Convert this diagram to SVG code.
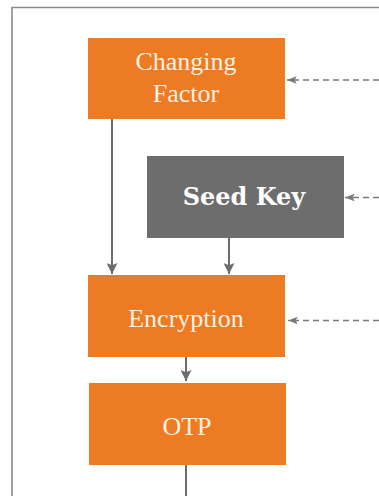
<svg xmlns="http://www.w3.org/2000/svg" width="379" height="496" viewBox="0 0 379 496">
<style>
.box{fill:#ec7b23}
.gbox{fill:#6d6d6d}
.lt{font-family:"Liberation Serif","DejaVu Serif",serif;font-size:26px;fill:#fdf1e4;text-anchor:middle}
.bd{font-family:"DejaVu Serif","Liberation Serif",serif;font-weight:bold;font-size:24px;fill:#ffffff;text-anchor:middle}
.solid{stroke:#6d6d6d;stroke-width:2;fill:none}
.dash{stroke:#7a7a7a;stroke-width:1.6;fill:none;stroke-dasharray:6 4}
</style>
<defs>
<marker id="ah" viewBox="0 0 10 10" refX="10" refY="5" markerWidth="5.5" markerHeight="5.5" orient="auto" markerUnits="strokeWidth">
<path d="M0,0 L10,5 L0,10 L2,5 Z" fill="#6d6d6d"/>
</marker>
<marker id="ahd" viewBox="0 0 10 10" refX="10" refY="5" markerWidth="6" markerHeight="6" orient="auto" markerUnits="strokeWidth">
<path d="M0,1 L10,5 L0,9 L2,5 Z" fill="#7a7a7a"/>
</marker>
</defs>
<path d="M12,496 V7.5 H379" fill="none" stroke="#8a8a8a" stroke-width="1.6"/>
<g id="connectors">
<line class="solid" x1="112" y1="119" x2="112" y2="274" marker-end="url(#ah)"/>
<line class="solid" x1="229" y1="238" x2="229" y2="274" marker-end="url(#ah)"/>
<line class="solid" x1="186" y1="357" x2="186" y2="381" marker-end="url(#ah)"/>
<line class="solid" x1="186" y1="465" x2="186" y2="496"/>
<line class="dash" x1="379" y1="80" x2="287" y2="80" marker-end="url(#ahd)"/>
<line class="dash" x1="379" y1="197.5" x2="345" y2="197.5" marker-end="url(#ahd)"/>
<line class="dash" x1="379" y1="320.5" x2="288" y2="320.5" marker-end="url(#ahd)"/>
</g>
<g id="changing-factor">
<rect class="box" x="88" y="38" width="197" height="81"/>
<text class="lt" x="186" y="70">Changing</text>
<text class="lt" x="186" y="102">Factor</text>
</g>
<g id="seed-key">
<rect class="gbox" x="147" y="156" width="197" height="82"/>
<text class="bd" x="244" y="205">Seed Key</text>
</g>
<g id="encryption">
<rect class="box" x="88" y="275" width="197" height="82"/>
<text class="lt" x="186" y="327">Encryption</text>
</g>
<g id="otp">
<rect class="box" x="89" y="383" width="197" height="82"/>
<text class="lt" x="187" y="435">OTP</text>
</g>
</svg>
